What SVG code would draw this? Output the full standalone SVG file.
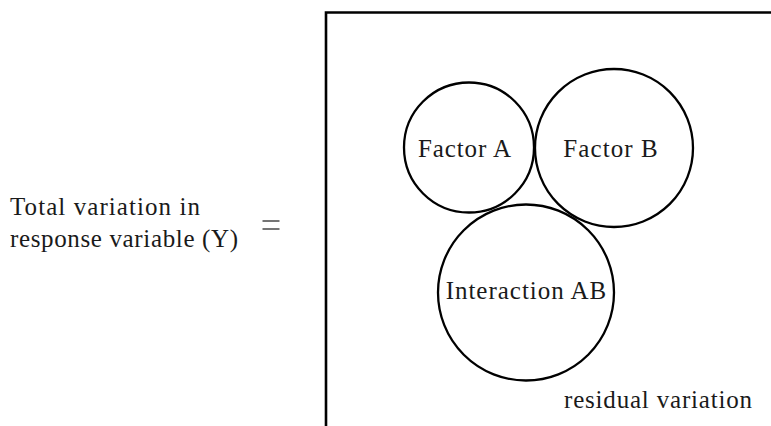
<svg xmlns="http://www.w3.org/2000/svg" width="771" height="426" viewBox="0 0 771 426">
<style>
text { font-family: "Liberation Serif", "DejaVu Serif", serif; font-size: 25px; fill: #1a1a1a; }
.c { fill: none; stroke: #000; stroke-width: 2.3; }
.box { fill: none; stroke: #000; stroke-width: 2.6; }
</style>
<rect width="771" height="426" fill="#fff"/>
<g id="total">
<text x="10" y="215" textLength="190" lengthAdjust="spacing">Total variation in</text>
<text x="10" y="247" textLength="228" lengthAdjust="spacing">response variable (Y)</text>
</g>
<g id="equals">
<line x1="262.5" y1="221" x2="279.5" y2="221" stroke="#1a1a1a" stroke-width="1.2"/>
<line x1="262.5" y1="229" x2="279.5" y2="229" stroke="#1a1a1a" stroke-width="1.2"/>
</g>
<g id="residual">
<path class="box" d="M326,426 V12.5 H772"/>
<text x="564" y="408.3" textLength="188" lengthAdjust="spacing">residual variation</text>
</g>
<g id="factorA">
<circle class="c" cx="469" cy="147.5" r="65"/>
<text x="418" y="157.3" textLength="93" lengthAdjust="spacing">Factor A</text>
</g>
<g id="factorB">
<circle class="c" cx="614" cy="148" r="79"/>
<text x="563.3" y="156.7" textLength="94.5" lengthAdjust="spacing">Factor B</text>
</g>
<g id="interactionAB">
<circle class="c" cx="526" cy="292.5" r="88"/>
<text x="445.7" y="299" textLength="160.5" lengthAdjust="spacing">Interaction AB</text>
</g>
</svg>
